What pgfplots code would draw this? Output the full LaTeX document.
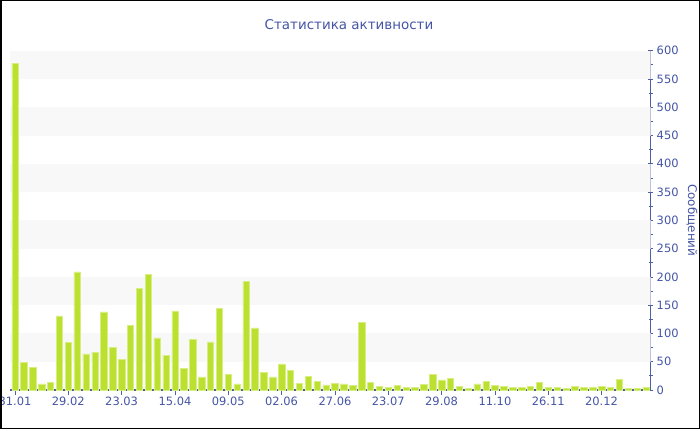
\documentclass[border=0pt]{standalone}
\usepackage{pgfplots}
\pgfplotsset{compat=1.18}
\usepackage{fontspec}
\setmainfont{DejaVu Sans}
\definecolor{barc}{RGB}{188,224,48}
\definecolor{barb}{RGB}{214,238,130}
\definecolor{axc}{RGB}{78,96,165}
\definecolor{txt}{RGB}{68,84,165}
\definecolor{band}{RGB}{248,248,248}
\begin{document}
\begin{tikzpicture}[x=1bp,y=1bp]
\useasboundingbox (0,0) rectangle (700,430);
\begin{axis}[
  at={(10bp,40bp)}, anchor=south west,
  scale only axis, width=640.7bp, height=339.3bp,
  xmin=-0.56, xmax=71.53, ymin=0, ymax=600,
  axis x line*=bottom, axis y line*=right,
  axis line style={draw=axc, line width=1.1bp},
  xtick={0,6,...,66},
  xticklabels={31.01,29.02,23.03,15.04,09.05,02.06,27.06,23.07,29.08,11.10,26.11,20.12},
  ytick={0,50,...,600},
  minor y tick num=1,
  xtick align=outside,
  ytick align=center,
  major tick length=5bp,
  minor tick length=4bp,
  tick style={draw=axc, line width=0.8bp},
  xticklabel style={font=\fontsize{11.5}{13}\selectfont, text=txt, yshift=1.5bp},
  yticklabel style={font=\fontsize{11.5}{13}\selectfont, text=txt, /pgf/number format/assume math mode=true},
  ylabel={Сообщений},
  ylabel style={at={(axis description cs:1.0645,0.5)}, anchor=center, rotate=180, font=\fontsize{12}{14}\selectfont, text=txt},
  ybar, bar shift=0pt,
  clip=true,
]
\fill[band] (axis cs:-1,50) rectangle (axis cs:73,100);
\fill[band] (axis cs:-1,150) rectangle (axis cs:73,200);
\fill[band] (axis cs:-1,250) rectangle (axis cs:73,300);
\fill[band] (axis cs:-1,350) rectangle (axis cs:73,400);
\fill[band] (axis cs:-1,450) rectangle (axis cs:73,500);
\fill[band] (axis cs:-1,550) rectangle (axis cs:73,600);
\addplot[ybar, bar width=0.72, fill=barc, draw=barb, line width=0.5bp] coordinates {
(0,578) (1,49) (2,40) (3,11) (4,13) (5,131) (6,84) (7,209) (8,64) (9,67)
(10,138) (11,75) (12,54) (13,114) (14,180) (15,204) (16,92) (17,61) (18,140) (19,38)
(20,90) (21,23) (22,85) (23,144) (24,28) (25,11) (26,192) (27,110) (28,31) (29,23)
(30,46) (31,35) (32,12) (33,24) (34,15) (35,9) (36,12) (37,11) (38,8) (39,119)
(40,14) (41,6) (42,5) (43,8) (44,4) (45,4) (46,10) (47,28) (48,18) (49,21)
(50,7) (51,3) (52,11) (53,15) (54,8) (55,7) (56,5) (57,5) (58,6) (59,14)
(60,5) (61,4) (62,3) (63,6) (64,5) (65,5) (66,6) (67,5) (68,19) (69,3)
(70,3) (71,5)
};
\end{axis}
\node[text=txt, font=\fontsize{13.5}{16}\selectfont] at (349,405) {Статистика активности};
\draw[black, line width=1.5bp] (0.75,1.75) rectangle (699.25,429.25);
\end{tikzpicture}
\end{document}
